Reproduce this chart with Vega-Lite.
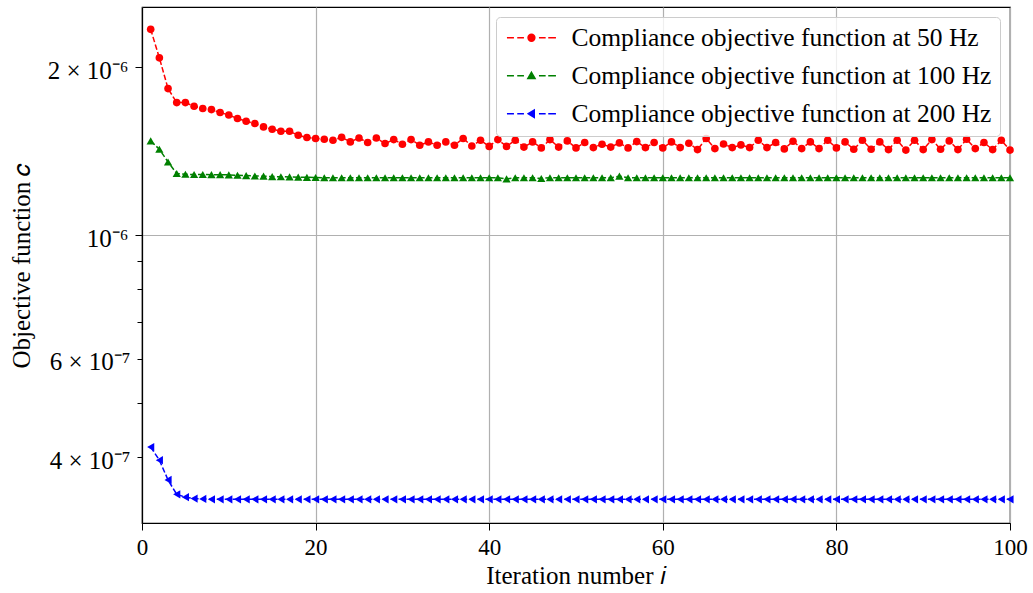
{
  "$schema": "https://vega.github.io/schema/vega-lite/v6.json",
  "autosize": {"type": "none"},
  "padding": {"left": 142, "top": 7, "right": 23, "bottom": 70},
  "width": 868,
  "height": 516,
  "background": "white",
  "datasets": {
    "hz50": [
      {"i":1,"c":2.34e-6},{"i":2,"c":2.08e-6},{"i":3,"c":1.832e-6},{"i":4,"c":1.729e-6},{"i":5,"c":1.729e-6},
      {"i":6,"c":1.703e-6},{"i":7,"c":1.687e-6},{"i":8,"c":1.680e-6},{"i":9,"c":1.660e-6},{"i":10,"c":1.643e-6},
      {"i":11,"c":1.619e-6},{"i":12,"c":1.601e-6},{"i":13,"c":1.586e-6},{"i":14,"c":1.564e-6},{"i":15,"c":1.549e-6},
      {"i":16,"c":1.536e-6},{"i":17,"c":1.536e-6},{"i":18,"c":1.511e-6},{"i":19,"c":1.497e-6},{"i":20,"c":1.491e-6},
      {"i":21,"c":1.486e-6},{"i":22,"c":1.480e-6},{"i":23,"c":1.498e-6},{"i":24,"c":1.470e-6},{"i":25,"c":1.494e-6},
      {"i":26,"c":1.466e-6},{"i":27,"c":1.494e-6},{"i":28,"c":1.460e-6},{"i":29,"c":1.484e-6},{"i":30,"c":1.456e-6},
      {"i":31,"c":1.484e-6},{"i":32,"c":1.450e-6},{"i":33,"c":1.470e-6},{"i":34,"c":1.450e-6},{"i":35,"c":1.470e-6},
      {"i":36,"c":1.450e-6},{"i":37,"c":1.491e-6},{"i":38,"c":1.445e-6},{"i":39,"c":1.480e-6},{"i":40,"c":1.443e-6},
      {"i":41,"c":1.484e-6},{"i":42,"c":1.443e-6},{"i":43,"c":1.480e-6},{"i":44,"c":1.439e-6},{"i":45,"c":1.470e-6},
      {"i":46,"c":1.434e-6},{"i":47,"c":1.484e-6},{"i":48,"c":1.439e-6},{"i":49,"c":1.476e-6},{"i":50,"c":1.434e-6},
      {"i":51,"c":1.466e-6},{"i":52,"c":1.436e-6},{"i":53,"c":1.456e-6},{"i":54,"c":1.439e-6},{"i":55,"c":1.464e-6},
      {"i":56,"c":1.434e-6},{"i":57,"c":1.472e-6},{"i":58,"c":1.436e-6},{"i":59,"c":1.466e-6},{"i":60,"c":1.434e-6},
      {"i":61,"c":1.470e-6},{"i":62,"c":1.436e-6},{"i":63,"c":1.462e-6},{"i":64,"c":1.424e-6},{"i":65,"c":1.491e-6},
      {"i":66,"c":1.430e-6},{"i":67,"c":1.457e-6},{"i":68,"c":1.436e-6},{"i":69,"c":1.452e-6},{"i":70,"c":1.436e-6},
      {"i":71,"c":1.480e-6},{"i":72,"c":1.436e-6},{"i":73,"c":1.466e-6},{"i":74,"c":1.428e-6},{"i":75,"c":1.474e-6},
      {"i":76,"c":1.430e-6},{"i":77,"c":1.470e-6},{"i":78,"c":1.430e-6},{"i":79,"c":1.480e-6},{"i":80,"c":1.434e-6},
      {"i":81,"c":1.470e-6},{"i":82,"c":1.426e-6},{"i":83,"c":1.480e-6},{"i":84,"c":1.426e-6},{"i":85,"c":1.470e-6},
      {"i":86,"c":1.424e-6},{"i":87,"c":1.480e-6},{"i":88,"c":1.421e-6},{"i":89,"c":1.480e-6},{"i":90,"c":1.424e-6},
      {"i":91,"c":1.484e-6},{"i":92,"c":1.426e-6},{"i":93,"c":1.476e-6},{"i":94,"c":1.424e-6},{"i":95,"c":1.486e-6},
      {"i":96,"c":1.430e-6},{"i":97,"c":1.466e-6},{"i":98,"c":1.424e-6},{"i":99,"c":1.480e-6},{"i":100,"c":1.421e-6}
    ],
    "hz100": [
      {"i":1,"c":1.476e-6},{"i":2,"c":1.426e-6},{"i":3,"c":1.353e-6},{"i":4,"c":1.290e-6},{"i":5,"c":1.286e-6},
      {"i":6,"c":1.285e-6},{"i":7,"c":1.285e-6},{"i":8,"c":1.284e-6},{"i":9,"c":1.284e-6},{"i":10,"c":1.283e-6},
      {"i":11,"c":1.281e-6},{"i":12,"c":1.279e-6},{"i":13,"c":1.277e-6},{"i":14,"c":1.276e-6},{"i":15,"c":1.274e-6},
      {"i":16,"c":1.273e-6},{"i":17,"c":1.272e-6},{"i":18,"c":1.271e-6},{"i":19,"c":1.270e-6},{"i":20,"c":1.269e-6},
      {"i":21,"c":1.268e-6},{"i":22,"c":1.268e-6},{"i":23,"c":1.268e-6},{"i":24,"c":1.268e-6},{"i":25,"c":1.268e-6},
      {"i":26,"c":1.268e-6},{"i":27,"c":1.268e-6},{"i":28,"c":1.268e-6},{"i":29,"c":1.268e-6},{"i":30,"c":1.268e-6},
      {"i":31,"c":1.268e-6},{"i":32,"c":1.268e-6},{"i":33,"c":1.268e-6},{"i":34,"c":1.268e-6},{"i":35,"c":1.268e-6},
      {"i":36,"c":1.268e-6},{"i":37,"c":1.268e-6},{"i":38,"c":1.268e-6},{"i":39,"c":1.268e-6},{"i":40,"c":1.268e-6},
      {"i":41,"c":1.268e-6},{"i":42,"c":1.262e-6},{"i":43,"c":1.268e-6},{"i":44,"c":1.268e-6},{"i":45,"c":1.268e-6},
      {"i":46,"c":1.264e-6},{"i":47,"c":1.268e-6},{"i":48,"c":1.268e-6},{"i":49,"c":1.268e-6},{"i":50,"c":1.268e-6},
      {"i":51,"c":1.268e-6},{"i":52,"c":1.268e-6},{"i":53,"c":1.268e-6},{"i":54,"c":1.268e-6},{"i":55,"c":1.276e-6},
      {"i":56,"c":1.268e-6},{"i":57,"c":1.268e-6},{"i":58,"c":1.268e-6},{"i":59,"c":1.268e-6},{"i":60,"c":1.268e-6},
      {"i":61,"c":1.268e-6},{"i":62,"c":1.268e-6},{"i":63,"c":1.268e-6},{"i":64,"c":1.268e-6},{"i":65,"c":1.268e-6},
      {"i":66,"c":1.268e-6},{"i":67,"c":1.268e-6},{"i":68,"c":1.268e-6},{"i":69,"c":1.268e-6},{"i":70,"c":1.268e-6},
      {"i":71,"c":1.268e-6},{"i":72,"c":1.268e-6},{"i":73,"c":1.268e-6},{"i":74,"c":1.268e-6},{"i":75,"c":1.268e-6},
      {"i":76,"c":1.268e-6},{"i":77,"c":1.268e-6},{"i":78,"c":1.268e-6},{"i":79,"c":1.268e-6},{"i":80,"c":1.268e-6},
      {"i":81,"c":1.268e-6},{"i":82,"c":1.268e-6},{"i":83,"c":1.268e-6},{"i":84,"c":1.268e-6},{"i":85,"c":1.268e-6},
      {"i":86,"c":1.268e-6},{"i":87,"c":1.268e-6},{"i":88,"c":1.268e-6},{"i":89,"c":1.268e-6},{"i":90,"c":1.268e-6},
      {"i":91,"c":1.268e-6},{"i":92,"c":1.268e-6},{"i":93,"c":1.268e-6},{"i":94,"c":1.268e-6},{"i":95,"c":1.268e-6},
      {"i":96,"c":1.268e-6},{"i":97,"c":1.268e-6},{"i":98,"c":1.268e-6},{"i":99,"c":1.268e-6},{"i":100,"c":1.268e-6}
    ],
    "hz200": [
      {"i":1,"c":4.17e-7},{"i":2,"c":3.95e-7},{"i":3,"c":3.64e-7},{"i":4,"c":3.43e-7},{"i":5,"c":3.39e-7},
      {"i":6,"c":3.37e-7},{"i":7,"c":3.365e-7},{"i":8,"c":3.36e-7},{"i":9,"c":3.36e-7},{"i":10,"c":3.36e-7},
      {"i":11,"c":3.36e-7},{"i":12,"c":3.36e-7},{"i":13,"c":3.36e-7},{"i":14,"c":3.36e-7},{"i":15,"c":3.36e-7},
      {"i":16,"c":3.36e-7},{"i":17,"c":3.36e-7},{"i":18,"c":3.36e-7},{"i":19,"c":3.36e-7},{"i":20,"c":3.36e-7},
      {"i":21,"c":3.36e-7},{"i":22,"c":3.36e-7},{"i":23,"c":3.36e-7},{"i":24,"c":3.36e-7},{"i":25,"c":3.36e-7},
      {"i":26,"c":3.36e-7},{"i":27,"c":3.36e-7},{"i":28,"c":3.36e-7},{"i":29,"c":3.36e-7},{"i":30,"c":3.36e-7},
      {"i":31,"c":3.36e-7},{"i":32,"c":3.36e-7},{"i":33,"c":3.36e-7},{"i":34,"c":3.36e-7},{"i":35,"c":3.36e-7},
      {"i":36,"c":3.36e-7},{"i":37,"c":3.36e-7},{"i":38,"c":3.36e-7},{"i":39,"c":3.36e-7},{"i":40,"c":3.36e-7},
      {"i":41,"c":3.36e-7},{"i":42,"c":3.36e-7},{"i":43,"c":3.36e-7},{"i":44,"c":3.36e-7},{"i":45,"c":3.36e-7},
      {"i":46,"c":3.36e-7},{"i":47,"c":3.36e-7},{"i":48,"c":3.36e-7},{"i":49,"c":3.36e-7},{"i":50,"c":3.36e-7},
      {"i":51,"c":3.36e-7},{"i":52,"c":3.36e-7},{"i":53,"c":3.36e-7},{"i":54,"c":3.36e-7},{"i":55,"c":3.36e-7},
      {"i":56,"c":3.36e-7},{"i":57,"c":3.36e-7},{"i":58,"c":3.36e-7},{"i":59,"c":3.36e-7},{"i":60,"c":3.36e-7},
      {"i":61,"c":3.36e-7},{"i":62,"c":3.36e-7},{"i":63,"c":3.36e-7},{"i":64,"c":3.36e-7},{"i":65,"c":3.36e-7},
      {"i":66,"c":3.36e-7},{"i":67,"c":3.36e-7},{"i":68,"c":3.36e-7},{"i":69,"c":3.36e-7},{"i":70,"c":3.36e-7},
      {"i":71,"c":3.36e-7},{"i":72,"c":3.36e-7},{"i":73,"c":3.36e-7},{"i":74,"c":3.36e-7},{"i":75,"c":3.36e-7},
      {"i":76,"c":3.36e-7},{"i":77,"c":3.36e-7},{"i":78,"c":3.36e-7},{"i":79,"c":3.36e-7},{"i":80,"c":3.36e-7},
      {"i":81,"c":3.36e-7},{"i":82,"c":3.36e-7},{"i":83,"c":3.36e-7},{"i":84,"c":3.36e-7},{"i":85,"c":3.36e-7},
      {"i":86,"c":3.36e-7},{"i":87,"c":3.36e-7},{"i":88,"c":3.36e-7},{"i":89,"c":3.36e-7},{"i":90,"c":3.36e-7},
      {"i":91,"c":3.36e-7},{"i":92,"c":3.36e-7},{"i":93,"c":3.36e-7},{"i":94,"c":3.36e-7},{"i":95,"c":3.36e-7},
      {"i":96,"c":3.36e-7},{"i":97,"c":3.36e-7},{"i":98,"c":3.36e-7},{"i":99,"c":3.36e-7},{"i":100,"c":3.36e-7}
    ]
  },
  "encoding": {
    "x": {
      "field": "i", "type": "quantitative",
      "scale": {"domain": [0, 100], "nice": false, "zero": false},
      "axis": {
        "values": [0, 20, 40, 60, 80, 100],
        "title": "Iteration number 𝑖",
        "tickSize": 7, "labelPadding": 6, "titlePadding": 4,
        "labelFlush": false, "labelOverlap": false, "grid": true
      }
    },
    "y": {
      "field": "c", "type": "quantitative",
      "scale": {"type": "log", "domain": [3.047e-7, 2.566e-6], "nice": false},
      "axis": {
        "values": [4e-7, 5e-7, 6e-7, 7e-7, 8e-7, 9e-7, 1e-6, 2e-6],
        "labelExpr": "abs(datum.value-2e-6)<1e-12 ? '2 × 10⁻⁶' : abs(datum.value-1e-6)<1e-12 ? '10⁻⁶' : abs(datum.value-6e-7)<1e-12 ? '6 × 10⁻⁷' : abs(datum.value-4e-7)<1e-12 ? '4 × 10⁻⁷' : ''",
        "title": "Objective function 𝑐",
        "tickSize": {"condition": {"test": "abs(datum.value-1e-6)<1e-12 || abs(datum.value-2e-6)<1e-12", "value": 7}, "value": 5},
        "gridOpacity": {"condition": {"test": "abs(datum.value-1e-6)<1e-12", "value": 1}, "value": 0},
        "labelPadding": 7, "labelOffset": 3, "labelFontSize": 25, "titlePadding": 13,
        "labelFlush": false, "labelOverlap": false, "grid": true
      }
    }
  },
  "layer": [
    {"data": {"name": "hz50"}, "mark": {"type": "line", "color": "#ff0000", "strokeDash": [5.5, 2.4], "strokeWidth": 1.5}},
    {"data": {"name": "hz50"}, "mark": {"type": "point", "shape": "circle", "filled": true, "size": 58, "color": "#ff0000", "opacity": 1}},
    {"data": {"name": "hz100"}, "mark": {"type": "line", "color": "#008000", "strokeDash": [5.5, 2.4], "strokeWidth": 1.5}},
    {"data": {"name": "hz100"}, "mark": {"type": "point", "shape": "triangle-up", "filled": true, "size": 68, "color": "#008000", "opacity": 1}},
    {"data": {"name": "hz200"}, "mark": {"type": "line", "color": "#0000ff", "strokeDash": [5.5, 2.4], "strokeWidth": 1.5}},
    {"data": {"name": "hz200"}, "mark": {"type": "point", "shape": "triangle-left", "filled": true, "size": 68, "color": "#0000ff", "opacity": 1}},
    {
      "data": {"name": "hz50"},
      "transform": [{"filter": "false"}],
      "mark": {"type": "point", "filled": true, "size": 4, "opacity": 1},
      "encoding": {
        "color": {
          "field": "series", "type": "nominal",
          "scale": {
            "domain": ["Compliance objective function at 50 Hz", "Compliance objective function at 100 Hz", "Compliance objective function at 200 Hz"],
            "range": ["#ff0000", "#008000", "#0000ff"]
          },
          "legend": {
            "title": null,
            "encode": {"symbols": {"update": {"stroke": {"scale": "color", "field": "value"}, "strokeWidth": {"value": 1.5}}}}
          }
        },
        "shape": {
          "field": "series", "type": "nominal",
          "scale": {
            "domain": ["Compliance objective function at 50 Hz", "Compliance objective function at 100 Hz", "Compliance objective function at 200 Hz"],
            "range": [
              "M-24.5,0H-17.5M-14.2,0H-7.5M7.5,0H14.2M16.8,0H24.5M-3.4,0A3.4,3.4 0 1,1 3.4,0A3.4,3.4 0 1,1 -3.4,0Z",
              "M-24.5,0H-17.5M-14.2,0H-7.5M7.5,0H14.2M16.8,0H24.5M0,-3.4L3.6,2.8L-3.6,2.8Z",
              "M-24.5,0H-17.5M-14.2,0H-7.5M7.5,0H14.2M16.8,0H24.5M-3.2,0L2.8,-3.6L2.8,3.6Z"
            ]
          },
          "legend": {"title": null}
        }
      }
    }
  ],
  "config": {
    "font": "Liberation Serif",
    "view": {"stroke": "black", "strokeWidth": 1.2},
    "axis": {
      "labelFont": "Liberation Serif", "labelFontSize": 23, "labelColor": "black",
      "titleFont": "Liberation Serif", "titleFontSize": 25, "titleFontWeight": "normal", "titleColor": "black",
      "domainColor": "black", "domainWidth": 1.2, "tickColor": "black", "tickWidth": 1,
      "gridColor": "#b0b0b0", "gridWidth": 1.2
    },
    "legend": {
      "orient": "top-right", "offset": 10, "padding": 8,
      "fillColor": "rgba(255,255,255,0.8)", "strokeColor": "#cccccc", "cornerRadius": 4,
      "labelFont": "Liberation Serif", "labelFontSize": 25.5, "labelColor": "black", "labelLimit": 0,
      "symbolSize": 4, "symbolStrokeWidth": 1.5, "symbolOffset": 14.7, "labelOffset": 27.3,
      "rowPadding": 11, "symbolOpacity": 1
    }
  }
}
